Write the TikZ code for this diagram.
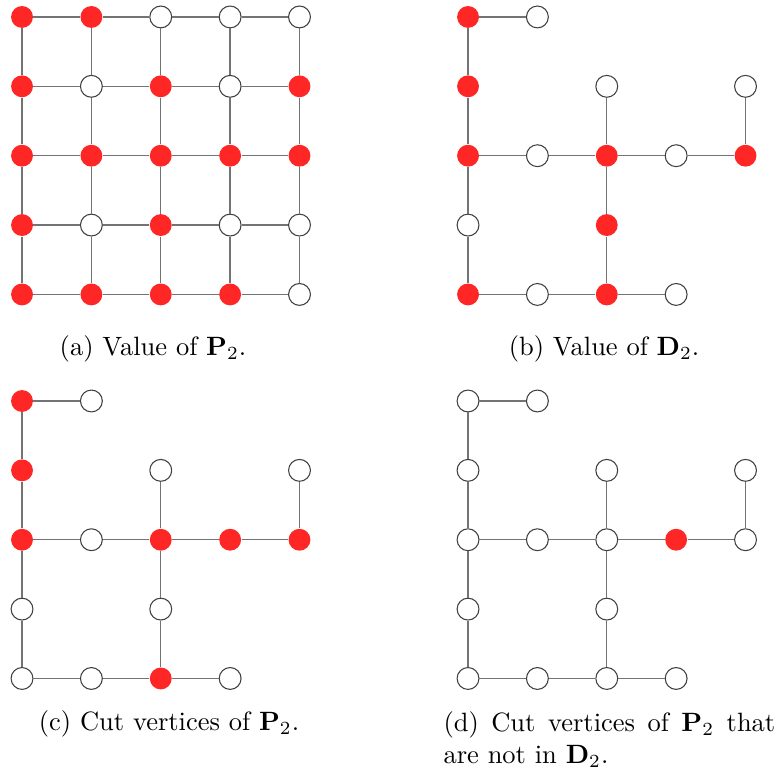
\documentclass[tikz,border=0pt]{standalone}
\usepackage{tikz}
\usepackage{amsmath}
\usetikzlibrary{positioning}
\tikzstyle{vertex} = [circle, draw=black!75, fill=white, minimum size=0.29cm, inner sep=0pt, line width=0.4pt]
\tikzstyle{marked} = [circle, fill=red!85, minimum size=0.29cm, inner sep=0pt]
\tikzstyle{edge} = [draw=black!55, line width=0.5pt]
\tikzstyle{caption} = [inner sep=0pt, anchor=base]

\begin{document}
\begin{tikzpicture}
\useasboundingbox (0,0) rectangle (10.331,10.305);

% (a) value of P2 on the grid
\begin{scope}[shift={(0.292cm,10.080cm)}, x=0.920cm, y=-0.920cm]
\foreach \i/\j/\s in {0/0/marked, 1/0/marked, 2/0/vertex, 3/0/vertex, 4/0/vertex,
                      0/1/marked, 1/1/vertex, 2/1/marked, 3/1/vertex, 4/1/marked,
                      0/2/marked, 1/2/marked, 2/2/marked, 3/2/marked, 4/2/marked,
                      0/3/marked, 1/3/vertex, 2/3/marked, 3/3/vertex, 4/3/vertex,
                      0/4/marked, 1/4/marked, 2/4/marked, 3/4/marked, 4/4/vertex}
  \node[\s] (a\i\j) at (\i,\j) {};
\foreach \i/\k in {0/1, 1/2, 2/3, 3/4}
  \foreach \j in {0,...,4} {
    \draw[edge] (a\i\j) -- (a\k\j);
    \draw[edge] (a\j\i) -- (a\j\k);
  }
\end{scope}

% (b) value of D2
\begin{scope}[shift={(6.207cm,10.080cm)}, x=0.920cm, y=-0.920cm]
\foreach \i/\j/\s in {0/0/marked, 1/0/vertex, 0/1/marked, 2/1/vertex, 4/1/vertex,
                      0/2/marked, 1/2/vertex, 2/2/marked, 3/2/vertex, 4/2/marked,
                      0/3/vertex, 2/3/marked, 0/4/marked, 1/4/vertex, 2/4/marked, 3/4/vertex}
  \node[\s] (b\i\j) at (\i,\j) {};
\foreach \p/\q in {00/10, 00/01, 01/02, 02/03, 03/04, 02/12, 12/22, 22/32, 32/42,
                   21/22, 22/23, 23/24, 04/14, 14/24, 24/34, 41/42}
  \draw[edge] (b\p) -- (b\q);
\end{scope}

% (c) cut vertices of P2
\begin{scope}[shift={(0.292cm,4.987cm)}, x=0.920cm, y=-0.920cm]
\foreach \i/\j/\s in {0/0/marked, 1/0/vertex, 0/1/marked, 2/1/vertex, 4/1/vertex,
                      0/2/marked, 1/2/vertex, 2/2/marked, 3/2/marked, 4/2/marked,
                      0/3/vertex, 2/3/vertex, 0/4/vertex, 1/4/vertex, 2/4/marked, 3/4/vertex}
  \node[\s] (c\i\j) at (\i,\j) {};
\foreach \p/\q in {00/10, 00/01, 01/02, 02/03, 03/04, 02/12, 12/22, 22/32, 32/42,
                   21/22, 22/23, 23/24, 04/14, 14/24, 24/34, 41/42}
  \draw[edge] (c\p) -- (c\q);
\end{scope}

% (d) cut vertices of P2 not in D2
\begin{scope}[shift={(6.207cm,4.987cm)}, x=0.920cm, y=-0.920cm]
\foreach \i/\j/\s in {0/0/vertex, 1/0/vertex, 0/1/vertex, 2/1/vertex, 4/1/vertex,
                      0/2/vertex, 1/2/vertex, 2/2/vertex, 3/2/marked, 4/2/vertex,
                      0/3/vertex, 2/3/vertex, 0/4/vertex, 1/4/vertex, 2/4/vertex, 3/4/vertex}
  \node[\s] (d\i\j) at (\i,\j) {};
\foreach \p/\q in {00/10, 00/01, 01/02, 02/03, 03/04, 02/12, 12/22, 22/32, 32/42,
                   21/22, 22/23, 23/24, 04/14, 14/24, 24/34, 41/42}
  \draw[edge] (d\p) -- (d\q);
\end{scope}

% Captions
\node (capa) [caption] at (2.029,5.584) {(a) Value of $\mathbf{P}_2$.};
\node (capb) [caption] at (8.011,5.584) {(b) Value of $\mathbf{D}_2$.};
\node (capc) [caption] at (2.241,0.623) {(c) Cut vertices of $\mathbf{P}_2$.};
\node (capd) [inner sep=0pt, anchor=north west, text width=4.40cm, align=justify] at (5.875,0.875)
  {(d) Cut vertices of $\mathbf{P}_2$ that are not in $\mathbf{D}_2$.};

\end{tikzpicture}
\end{document}
